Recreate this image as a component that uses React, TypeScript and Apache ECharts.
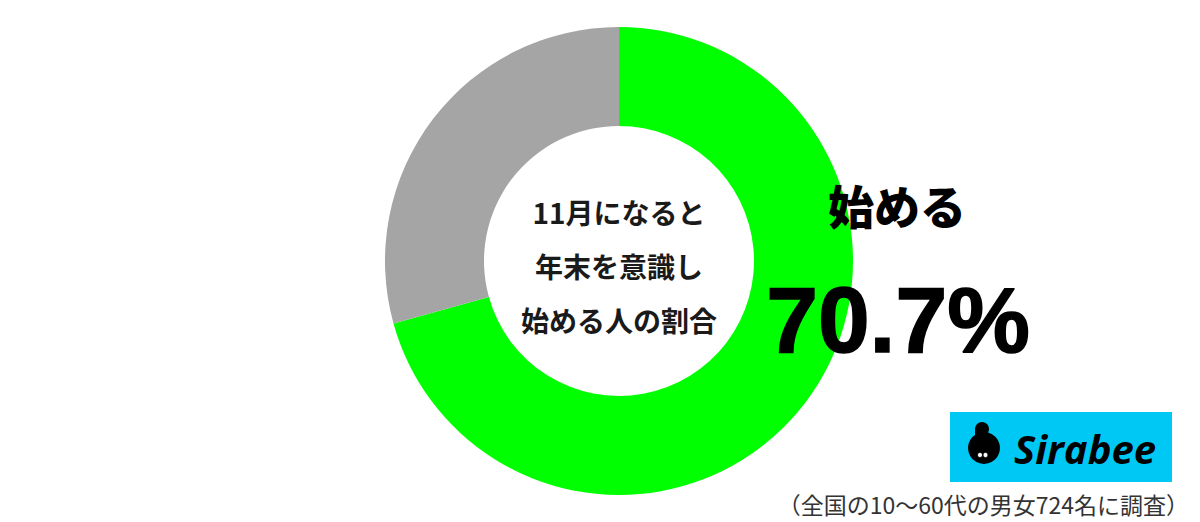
import React, { useEffect, useRef } from "react";
import * as echarts from "echarts";

const categories = ["始める", "その他"];
const values = [70.7, 29.3];
const colors = ["#00FF00", "#A5A5A5"];
const centerLines = ["11月になると", "年末を意識し", "始める人の割合"];
const highlightLabel = "始める";
const highlightValue = "70.7%";
const footnote = "（全国の10〜60代の男女724名に調査）";
const brand = "Sirabee";

export default function App() {
  const ref = useRef<HTMLDivElement>(null);
  useEffect(() => {
    if (!ref.current) return;
    const chart = echarts.init(ref.current, null, { renderer: "svg" });
    const jp = '"Noto Sans CJK JP", "Noto Sans", sans-serif';
    chart.setOption({
      animation: false,
      backgroundColor: "#ffffff",
      series: [
        {
          type: "pie",
          center: [619, 261],
          radius: [135, 234],
          startAngle: 90,
          clockwise: true,
          z: 1,
          label: { show: false },
          labelLine: { show: false },
          silent: true,
          itemStyle: { borderWidth: 0 },
          data: categories.map((c, i) => ({
            name: c,
            value: values[i],
            itemStyle: { color: colors[i] },
          })),
        },
      ],
      graphic: {
        elements: [
          {
            type: "group",
            z: 100,
            children: [
              ...centerLines.map((t, i) => ({
                type: "text",
                x: 619,
                y: 212 + i * 54,
                z: 100,
                style: {
                  text: t,
                  fill: "#1a1a1a",
                  font: `600 28px ${jp}`,
                  textAlign: "center",
                  textVerticalAlign: "middle",
                },
              })),
              {
                type: "text",
                x: 897,
                y: 204,
                z: 100,
                style: {
                  text: highlightLabel,
                  fill: "#000",
                  font: `900 46px ${jp}`,
                  textAlign: "center",
                  textVerticalAlign: "middle",
                },
              },
              {
                type: "text",
                x: 898,
                y: 320,
                z: 100,
                style: {
                  text: highlightValue,
                  fill: "#000",
                  stroke: "#000",
                  lineWidth: 1.5,
                  font: `bold 93px "Liberation Sans", Arial, sans-serif`,
                  textAlign: "center",
                  textVerticalAlign: "middle",
                },
              },
              {
                type: "rect",
                z: 100,
                shape: { x: 950, y: 412, width: 222, height: 70 },
                style: { fill: "#00C8F5" },
              },
              {
                type: "circle",
                z: 101,
                shape: { cx: 984, cy: 448, r: 16 },
                style: { fill: "#000" },
              },
              {
                type: "circle",
                z: 101,
                shape: { cx: 982, cy: 429, r: 7 },
                style: { fill: "#000" },
              },
              {
                type: "rect",
                z: 101,
                shape: { x: 975, y: 429, width: 6, height: 14 },
                style: { fill: "#000" },
              },
              {
                type: "circle",
                z: 102,
                shape: { cx: 980, cy: 455, r: 2.5 },
                style: { fill: "#fff", stroke: "#000", lineWidth: 0.8 },
              },
              {
                type: "circle",
                z: 102,
                shape: { cx: 985.5, cy: 455, r: 2.5 },
                style: { fill: "#fff", stroke: "#000", lineWidth: 0.8 },
              },
              {
                type: "text",
                x: 1085,
                y: 448,
                z: 101,
                style: {
                  text: brand,
                  fill: "#000",
                  font: `italic bold 40px "Open Sans", "Liberation Sans", sans-serif`,
                  textAlign: "center",
                  textVerticalAlign: "middle",
                },
              },
              {
                type: "text",
                x: 1189,
                y: 504,
                z: 100,
                style: {
                  text: footnote,
                  fill: "#333",
                  font: `400 23px ${jp}`,
                  textAlign: "right",
                  textVerticalAlign: "middle",
                },
              },
            ],
          },
        ],
      },
    });
    return () => chart.dispose();
  }, []);
  return (
    <div
      ref={ref}
      style={{ position: "fixed", left: 0, top: 0, width: 1200, height: 522 }}
    />
  );
}
